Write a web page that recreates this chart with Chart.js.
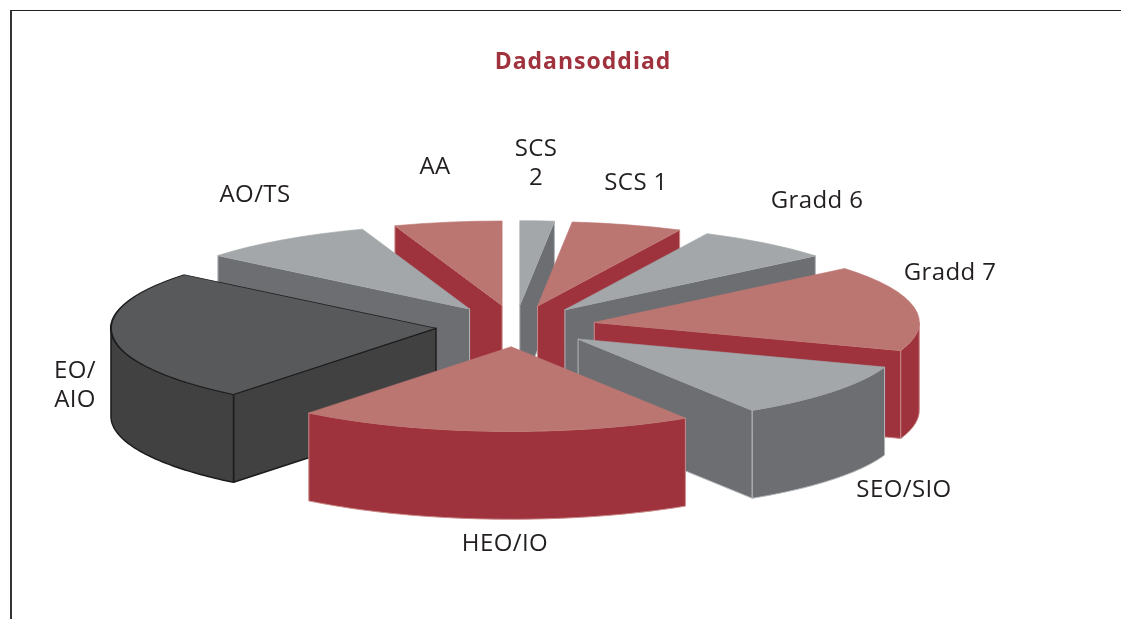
<!DOCTYPE html>
<html>
<head>
<meta charset="utf-8">
<title>Dadansoddiad</title>
<script src="https://cdn.jsdelivr.net/npm/chart.js@4"></script>
<style>
  html, body { margin: 0; padding: 0; background: #fff; overflow: hidden; }
  #wrap { position: relative; width: 1121px; height: 619px; }
  #frame { position: absolute; left: 10px; top: 10px; right: 0; bottom: 0; border-top: 1px solid #222; border-left: 2px solid #333; }
  #pie { position: absolute; left: 0; top: 0; }
</style>
</head>
<body>
<div id="wrap">
  <canvas id="pie" width="1121" height="619"></canvas>
  <div id="frame"></div>
</div>
<script>
const titleText = "Dadansoddiad";
const categories = ["SCS 2", "SCS 1", "Gradd 6", "Gradd 7", "SEO/SIO", "HEO/IO", "EO/AIO", "AO/TS", "AA"];
const shares = [1.7, 5.5, 6.8, 16.4, 10.6, 19.7, 25.2, 8.75, 5.35];

// look of the slices, same order as categories
const GREY = { top: "#a3a7a9", wall: "#6c6e71", line: "#b4b8ba", width: 1 };
const RED = { top: "#bc7672", wall: "#9e333e", line: "#c98a88", width: 1 };
const DARK = { top: "#58595b", wall: "#414141", line: "#1c1c1c", width: 1.5 };
const looks = [GREY, RED, GREY, RED, GREY, RED, DARK, GREY, RED];

const radius = 325;
const explode = 80;
const squash = 0.26;
const depth = 88;

// where the text sits, [x, y, lines]
const labelSpots = [
  [536, 149, ["SCS", "2"]],
  [636, 183, ["SCS 1"]],
  [817, 201, ["Gradd 6"]],
  [950, 273, ["Gradd 7"]],
  [904, 490, ["SEO/SIO"]],
  [505, 544, ["HEO/IO"]],
  [75, 371, ["EO/", "AIO"]],
  [255, 195, ["AO/TS"]],
  [435, 167, ["AA"]],
];

const tiltedPie = {
  id: "tiltedPie",
  beforeDatasetDraw(chart, args) {
    const ctx = chart.ctx;
    const arcs = args.meta.data;
    const midOf = (a) => (a.startAngle + a.endAngle) / 2;
    // paint from the back of the pie to the front
    const order = arcs.map((a, i) => i).sort((p, q) => Math.sin(midOf(arcs[p])) - Math.sin(midOf(arcs[q])));

    order.forEach((i) => {
      const arc = arcs[i];
      const look = looks[i];
      const mid = midOf(arc);
      const ox = arc.x + Math.cos(mid) * explode;
      const oy = Math.sin(mid) * explode;
      const px = (ang, r) => ox + Math.cos(ang) * r;
      const py = (ang, r) => arc.y + (oy + Math.sin(ang) * r) * squash;
      const rimAt = (ang) => [px(ang, arc.outerRadius), py(ang, arc.outerRadius)];

      ctx.save();
      ctx.fillStyle = look.wall;
      ctx.strokeStyle = look.line;
      ctx.lineWidth = look.width;
      ctx.lineJoin = "round";

      // cut faces, skip the ones turned away from the viewer
      const apex = [px(0, 0), py(0, 0)];
      const cuts = [];
      if (Math.cos(arc.startAngle) < 0) cuts.push(arc.startAngle);
      if (Math.cos(arc.endAngle) > 0) cuts.push(arc.endAngle);
      cuts.forEach((ang) => {
        const rim = rimAt(ang);
        ctx.beginPath();
        ctx.moveTo(apex[0], apex[1]);
        ctx.lineTo(rim[0], rim[1]);
        ctx.lineTo(rim[0], rim[1] + depth);
        ctx.lineTo(apex[0], apex[1] + depth);
        ctx.closePath();
        ctx.fill();
        ctx.stroke();
      });

      // outer wall, only the part of the rim that faces the front
      const from = Math.max(arc.startAngle, 0);
      const to = Math.min(arc.endAngle, Math.PI);
      if (to > from) {
        const steps = 60;
        const rimPts = [];
        for (let s = 0; s <= steps; s++) rimPts.push(rimAt(from + (to - from) * s / steps));
        ctx.beginPath();
        rimPts.forEach((p, n) => (n ? ctx.lineTo(p[0], p[1]) : ctx.moveTo(p[0], p[1])));
        for (let s = steps; s >= 0; s--) ctx.lineTo(rimPts[s][0], rimPts[s][1] + depth);
        ctx.closePath();
        ctx.fill();
        ctx.stroke();
      }
      ctx.restore();

      // top face is the library's own arc, flattened
      ctx.save();
      ctx.translate(ox - arc.x, arc.y + oy * squash);
      ctx.scale(1, squash);
      ctx.translate(0, -arc.y);
      arc.draw(ctx);
      ctx.restore();
    });
    return false;
  },
  afterDatasetsDraw(chart) {
    const ctx = chart.ctx;
    ctx.save();
    ctx.textAlign = "center";
    ctx.textBaseline = "middle";
    ctx.fillStyle = "#231f20";
    ctx.font = '24px "Open Sans"';
    ctx.letterSpacing = "0.4px";
    labelSpots.forEach((spot) => {
      spot[2].forEach((line, n) => ctx.fillText(line, spot[0], spot[1] + n * 29));
    });
    ctx.fillStyle = "#a0323e";
    ctx.font = 'bold 23px "Open Sans"';
    ctx.letterSpacing = "1px";
    ctx.fillText(titleText, 583, 62);
    ctx.restore();
  },
};

new Chart(document.getElementById("pie"), {
  type: "pie",
  plugins: [tiltedPie],
  data: {
    labels: categories,
    datasets: [{
      data: shares,
      backgroundColor: looks.map((l) => l.top),
      borderColor: looks.map((l) => (l === DARK ? l.line : l.top)),
      borderWidth: looks.map((l) => (l === DARK ? 2 : 1)),
      radius: radius,
    }],
  },
  options: {
    responsive: false,
    animation: false,
    layout: { padding: { right: 90, top: 33 } },
    plugins: { legend: { display: false }, tooltip: { enabled: false } },
  },
});
</script>
</body>
</html>
